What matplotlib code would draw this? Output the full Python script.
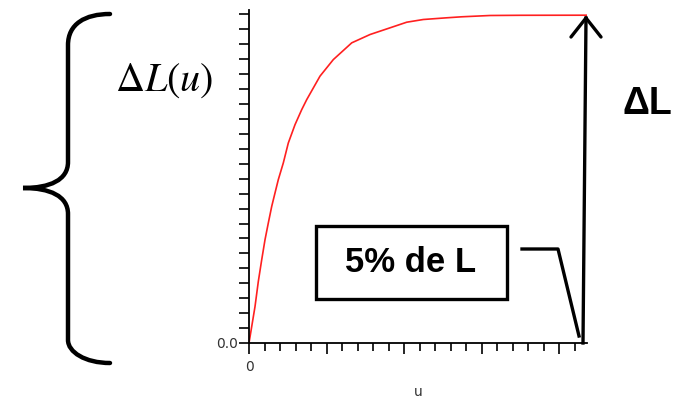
import numpy as np
import matplotlib
matplotlib.use("Agg")
import matplotlib.pyplot as plt
from matplotlib.path import Path
from matplotlib.patches import PathPatch, Rectangle
from matplotlib.lines import Line2D
from matplotlib.ticker import MultipleLocator, FuncFormatter

# curve (x and y in tick units)
u = [0, 0.174, 0.387, 0.600, 0.819, 1.032, 1.245, 1.465, 1.677, 1.890, 2.213,
     2.535, 2.968, 3.400, 3.723, 4.581, 5.439, 6.626, 7.806, 9.097, 10.174,
     11.245, 12.755, 13.723, 15.548, 17.548, 21.787]
delta_L = [0, 1.094, 2.436, 4.114, 5.570, 6.913, 8.034, 9.148, 10.047, 10.940,
           12.060, 13.393, 14.622, 15.628, 16.299, 17.873, 18.980, 20.101,
           20.658, 21.107, 21.483, 21.664, 21.778, 21.845, 21.932, 21.946, 21.952]
x_max = 21.8
y_max = 22.3

W, H = 676, 399
fig = plt.figure(figsize=(W / 100, H / 100), dpi=100)

def fp(x, y):
    # pixel position (from top left) to figure fraction
    return x / W, 1 - y / H

ax = fig.add_axes([249 / W, (H - 343) / H, (587 - 249) / W, (343 - 10) / H])
ax.plot(u, delta_L, color="#ff2020", lw=1.2)
ax.set_xlim(0, x_max)
ax.set_ylim(0, y_max)
for s in ["top", "right"]:
    ax.spines[s].set_visible(False)
for s in ["left", "bottom"]:
    ax.spines[s].set_linewidth(1.3)

ax.xaxis.set_major_locator(MultipleLocator(5))
ax.xaxis.set_minor_locator(MultipleLocator(1))
ax.yaxis.set_major_locator(MultipleLocator(1))
ax.xaxis.set_major_formatter(FuncFormatter(lambda v, p: "0" if v == 0 else ""))
ax.yaxis.set_major_formatter(FuncFormatter(lambda v, p: "0.0" if v == 0 else ""))
ax.tick_params(axis="x", which="major", length=8, width=1.2, labelsize=10, colors="#333333", pad=4)
ax.tick_params(axis="x", which="minor", length=6, width=1.2)
ax.tick_params(axis="y", which="major", length=7, width=1.2, labelsize=10, colors="#333333", pad=1)
ax.tick_params(axis="both", color="black")
ax.set_xlabel("u", fontsize=10, color="#333333", labelpad=8)

# Delta L arrow
x0, y0 = fp(583, 343)
x1, y1 = fp(586, 18)
fig.add_artist(Line2D([x0, x1], [y0, y1], transform=fig.transFigure, color="black", lw=2.4))
for hx in (571, 601):
    hx0, hy0 = fp(hx, 37)
    fig.add_artist(Line2D([hx0, x1], [hy0, y1], transform=fig.transFigure,
                          color="black", lw=2.4, solid_capstyle="round"))
fig.text(*fp(647, 104), "ΔL", fontsize=27, fontweight="bold",
         family="Liberation Sans", ha="center", va="center")

# 5% box and leader line
bx0, by0 = fp(316, 299)
bx1, by1 = fp(507, 226)
fig.add_artist(Rectangle((bx0, by0), bx1 - bx0, by1 - by0, transform=fig.transFigure,
                         fill=False, ec="black", lw=2.4))
fig.text(*fp(411, 263), "5% de L", fontsize=25, fontweight="bold",
         family="Liberation Sans", ha="center", va="center")
lx, ly = zip(fp(522, 249), fp(558, 249), fp(579, 336))
fig.add_artist(Line2D(lx, ly, transform=fig.transFigure, color="black", lw=2.4))

# curly brace
pts = [(110, 14), (85, 14), (68, 24), (68, 45),
       (68, 162),
       (68, 180), (50, 188), (23, 188),
       (50, 188), (68, 196), (68, 214),
       (68, 340),
       (68, 352), (85, 363), (110, 363)]
codes = [Path.MOVETO, Path.CURVE4, Path.CURVE4, Path.CURVE4,
         Path.LINETO,
         Path.CURVE4, Path.CURVE4, Path.CURVE4,
         Path.CURVE4, Path.CURVE4, Path.CURVE4,
         Path.LINETO,
         Path.CURVE4, Path.CURVE4, Path.CURVE4]
brace = Path([fp(*p) for p in pts], codes)
fig.add_artist(PathPatch(brace, transform=fig.transFigure, fill=False, ec="black",
                         lw=3.2, capstyle="round"))

fig.text(*fp(164, 80), r"$\Delta L(u)$", fontsize=29, ha="center", va="center",
         math_fontfamily="stix")

fig.savefig("out.png", dpi=100)
